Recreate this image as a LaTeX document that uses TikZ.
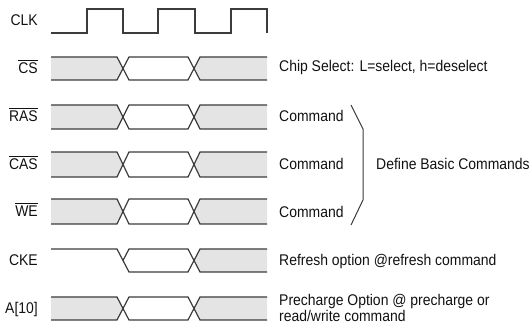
\documentclass[tikz,border=0pt]{standalone}
\usepackage{fontspec}
\setmainfont{Liberation Sans}[FakeStretch=0.9]
\definecolor{sigcol}{HTML}{3C3C3C}
\definecolor{busfill}{HTML}{E4E4E4}
\definecolor{txtcol}{HTML}{111111}
\newcommand\busrow[2]{%
  \fill[busfill] (51,#1) -- (117,#1) -- (123,{(#1+#2)/2}) -- (117,#2) -- (51,#2) -- cycle;
  \fill[busfill] (267,#1) -- (200,#1) -- (194,{(#1+#2)/2}) -- (200,#2) -- (267,#2) -- cycle;
  \draw[sig] (51,#1) -- (117,#1) -- (129,#2) -- (188,#2) -- (200,#1) -- (267,#1);
  \draw[sig] (51,#2) -- (117,#2) -- (129,#1) -- (188,#1) -- (200,#2) -- (267,#2);
}
\newcommand\ovl[1]{\leavevmode\vbox{\hrule height 0.9pt\kern 2.6pt\hbox{#1}}}
\begin{document}
\begin{tikzpicture}[x=1pt,y=-1pt,
  sig/.style={draw=sigcol, line width=1.2pt, line join=miter},
  bracel/.style={draw=sigcol, line width=1pt},
  lbl/.style={font=\fontsize{15.5}{16}\selectfont, inner sep=0pt, text=txtcol}]
\useasboundingbox (0,0) rectangle (531,328);
% clock
\draw[sig] (51,33) -- (87,33) -- (87,9) -- (123,9) -- (123,33) -- (158,33) -- (158,9)
  -- (195,9) -- (195,33) -- (231,33) -- (231,9) -- (267,9) -- (267,33);
% buses
\busrow{57}{80}
\busrow{105}{129}
\busrow{152}{177}
\busrow{199}{224}
\busrow{297}{320}
% CKE
\fill[busfill] (267,249) -- (200,249) -- (194,260.5) -- (200,272) -- (267,272) -- cycle;
\draw[sig] (51,249) -- (117,249) -- (129,272) -- (188,272) -- (200,249) -- (267,249);
\draw[sig] (123,260.5) -- (129,249) -- (188,249) -- (200,272) -- (267,272);
% left labels
\node[lbl, anchor=base east] (lclk) at (38,26) {CLK};
\node[lbl, anchor=base east] (lcs) at (38,74) {\ovl{CS}};
\node[lbl, anchor=base east] (lras) at (38,122) {\ovl{RAS}};
\node[lbl, anchor=base east] (lcas) at (38,170) {\ovl{CAS}};
\node[lbl, anchor=base east] (lwe) at (38,217) {\ovl{WE}};
\node[lbl, anchor=base east] (lcke) at (38,266) {CKE};
\node[lbl, anchor=base east] (la10) at (38,314) {A[10]};
% right labels
\node[lbl, anchor=base west] (tcs) at (279,72) {Chip Select: L=select, h=deselect};
\node[lbl, anchor=base west] (tras) at (279,121.5) {Command};
\node[lbl, anchor=base west] (tcas) at (279,170) {Command};
\node[lbl, anchor=base west] (twe) at (279,217.5) {Command};
\node[lbl, anchor=base west] (tdef) at (376,170) {Define Basic Commands};
\node[lbl, anchor=base west] (tcke) at (279,265.5) {Refresh option @refresh command};
\node[lbl, anchor=base west] (ta1) at (279,306) {Precharge Option @ precharge or};
\node[lbl, anchor=base west] (ta2) at (279,321.5) {read/write command};
% brace
\draw[bracel] (351,105) -- (363,129) -- (363,200) -- (351,225);
\end{tikzpicture}
\end{document}
